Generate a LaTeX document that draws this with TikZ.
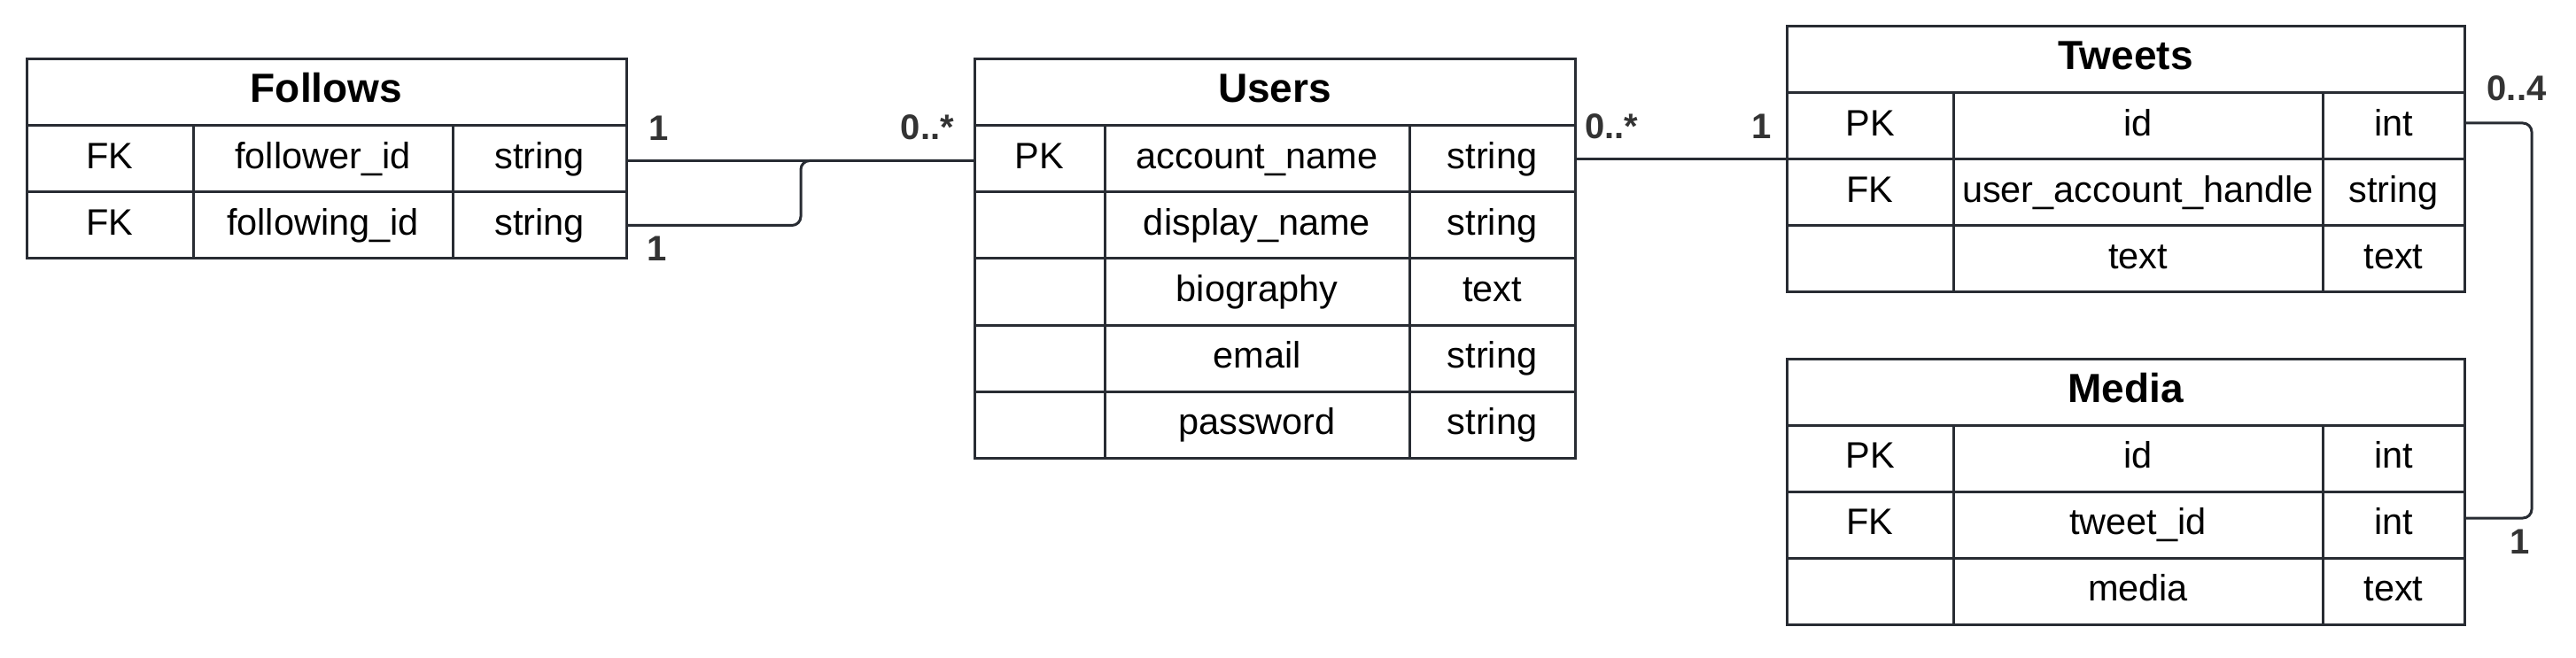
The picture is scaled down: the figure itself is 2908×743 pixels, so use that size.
\documentclass[tikz,border=0pt]{standalone}
\usepackage{fontspec}
\setmainfont{Liberation Sans}
\definecolor{lc}{HTML}{282C33}
\definecolor{labc}{HTML}{333333}
\newcommand\bodyfont{\fontsize{41.5}{50}\selectfont}
\newcommand\titlefont{\fontsize{46}{55}\selectfont\bfseries}
\newcommand\multfont{\fontsize{40}{48}\selectfont\bfseries}
% \ercell[style]{name}{x}{y}{w}{h}{text}
\newcommand\ercell[7][cell]{\node[#1, minimum width=#5pt, minimum height=#6pt] (#2) at (#3,#4) {#7};}
\tikzset{
  cell/.style={draw=lc, line width=3pt, inner sep=0pt, outer sep=0pt, text=black,
    text height=30pt, text depth=8pt, font=\bodyfont, anchor=north west},
  ttl/.style={cell, font=\titlefont, text height=33pt, text depth=10pt},
  conn/.style={draw=lc, line width=3pt, rounded corners=10pt},
  mult/.style={font=\multfont, text=labc, inner sep=0pt, outer sep=0pt}
}
\begin{document}
\begin{tikzpicture}[x=1pt,y=-1pt]
\useasboundingbox (0,0) rectangle (2908,743);
% ---------- Follows ----------
\ercell[ttl]{f-title}{30}{67}{677}{75}{Follows}
\ercell{f-k1}{30}{142}{188}{75}{FK}
\ercell{f-n1}{218}{142}{293}{75}{follower\_id}
\ercell{f-ty1}{511}{142}{196}{75}{string}
\ercell{f-k2}{30}{217}{188}{75}{FK}
\ercell{f-n2}{218}{217}{293}{75}{following\_id}
\ercell{f-ty2}{511}{217}{196}{75}{string}
% ---------- Users ----------
\ercell[ttl]{u-title}{1100}{67}{678}{75}{Users}
\ercell{u-k1}{1100}{142}{147}{75}{PK}
\ercell{u-n1}{1247}{142}{344}{75}{account\_name}
\ercell{u-ty1}{1591}{142}{187}{75}{string}
\ercell{u-k2}{1100}{217}{147}{75}{}
\ercell{u-n2}{1247}{217}{344}{75}{display\_name}
\ercell{u-ty2}{1591}{217}{187}{75}{string}
\ercell{u-k3}{1100}{292}{147}{75}{}
\ercell{u-n3}{1247}{292}{344}{75}{biography}
\ercell{u-ty3}{1591}{292}{187}{75}{text}
\ercell{u-k4}{1100}{367}{147}{75}{}
\ercell{u-n4}{1247}{367}{344}{75}{email}
\ercell{u-ty4}{1591}{367}{187}{75}{string}
\ercell{u-k5}{1100}{442}{147}{75}{}
\ercell{u-n5}{1247}{442}{344}{75}{password}
\ercell{u-ty5}{1591}{442}{187}{75}{string}
% ---------- Tweets ----------
\ercell[ttl]{t-title}{2017}{30}{765}{75}{Tweets}
\ercell{t-k1}{2017}{105}{188}{75}{PK}
\ercell{t-n1}{2205}{105}{417}{75}{id}
\ercell{t-ty1}{2622}{105}{160}{75}{int}
\ercell{t-k2}{2017}{180}{188}{75}{FK}
\ercell{t-n2}{2205}{180}{417}{75}{user\_account\_handle}
\ercell{t-ty2}{2622}{180}{160}{75}{string}
\ercell{t-k3}{2017}{255}{188}{75}{}
\ercell{t-n3}{2205}{255}{417}{75}{text}
\ercell{t-ty3}{2622}{255}{160}{75}{text}
% ---------- Media ----------
\ercell[ttl]{m-title}{2017}{405}{765}{75}{Media}
\ercell{m-k1}{2017}{480}{188}{75}{PK}
\ercell{m-n1}{2205}{480}{417}{75}{id}
\ercell{m-ty1}{2622}{480}{160}{75}{int}
\ercell{m-k2}{2017}{555}{188}{75}{FK}
\ercell{m-n2}{2205}{555}{417}{75}{tweet\_id}
\ercell{m-ty2}{2622}{555}{160}{75}{int}
\ercell{m-k3}{2017}{630}{188}{75}{}
\ercell{m-n3}{2205}{630}{417}{75}{media}
\ercell{m-ty3}{2622}{630}{160}{75}{text}
% ---------- connectors ----------
\draw[conn] ([yshift=-2pt]f-ty1.east) -- ([yshift=-2pt]u-k1.west);
\draw[conn] (f-ty2.east) -- ++(197,0) |- ([yshift=-2pt]u-k1.west);
\draw[conn] (u-ty1.east) -- (u-ty1.east -| t-k1.west);
\draw[conn] ([yshift=3.5pt]t-ty1.east) -- ++(76,0) |- ([yshift=7.5pt]m-ty2.east);
% ---------- multiplicities ----------
\node[mult, anchor=base west] (l-f1) at (732,159) {1};
\node[mult, anchor=base east] (l-u1) at (1077,158) {0..*};
\node[mult, anchor=base west] (l-f2) at (730,295) {1};
\node[mult, anchor=base west] (l-u2) at (1789,157) {0..*};
\node[mult, anchor=base east] (l-t1) at (2000,157) {1};
\node[mult, anchor=base] (l-t2) at (2841,114) {0..4};
\node[mult, anchor=base] (l-m1) at (2845,625) {1};
\end{tikzpicture}
\end{document}
